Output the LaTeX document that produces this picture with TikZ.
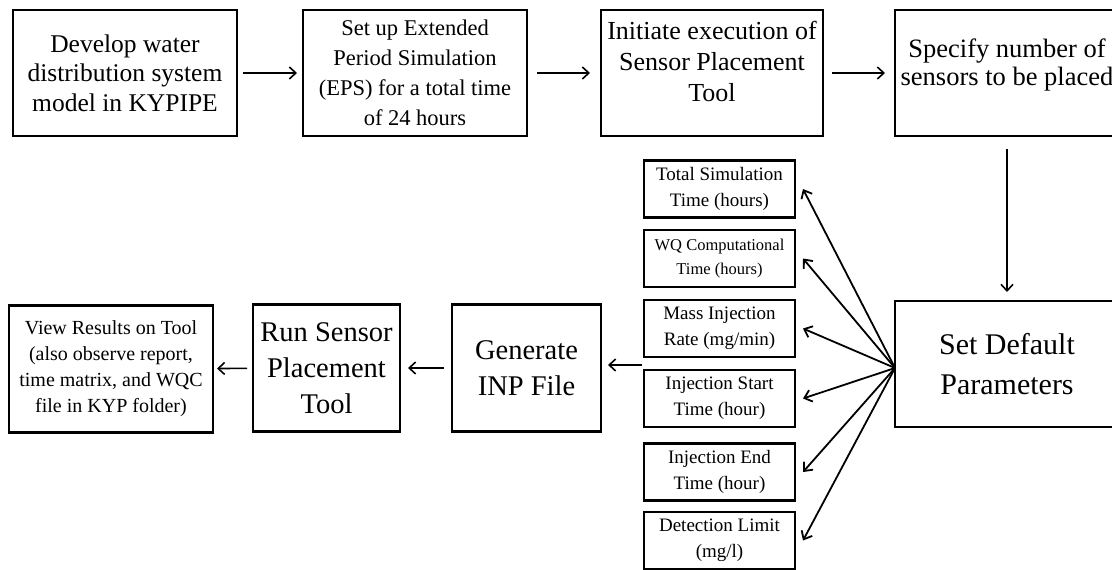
\documentclass[tikz,border=0pt]{standalone}
\usepackage{fontspec}
\setmainfont{Liberation Serif}
\usetikzlibrary{arrows.meta,calc}

\newcommand{\fs}[2]{\fontsize{#1}{#2}\selectfont}
\newcommand{\lifted}[2]{\raisebox{#1}[\height][\depth]{\begin{tabular}{@{}c@{}}#2\end{tabular}}}

\begin{document}
\begin{tikzpicture}[x=1pt,y=-1pt,
  stagebox/.style={draw, line width=2.4pt, inner sep=0pt, outer sep=0pt,
    align=center, minimum width=224pt, minimum height=126pt},
  flowbox/.style={draw, line width=2.4pt, inner sep=0pt, outer sep=0pt,
    align=center, minimum height=127pt},
  parambox/.style={draw, line width=2.1pt, inner sep=0pt, outer sep=0pt,
    align=center, minimum width=151pt, minimum height=57pt,
    font=\fs{19}{26}},
  flow/.style={line width=1.6pt, -{Straight Barb[length=6.5pt,width=12pt,line width=1.6pt]}},
  spoke/.style={line width=1.8pt, -{Straight Barb[length=7pt,width=12pt,line width=1.8pt]}}]

\clip (0,0) rectangle (1112,570);

% top row
\node[stagebox, font=\fs{25.5}{29.5}] (model) at (125,73)
  {Develop water\\distribution system\\model in KYPIPE};
\node[stagebox, font=\fs{22.5}{30}] (eps) at (415,73)
  {Set up Extended\\Period Simulation\\(EPS) for a total time\\of 24 hours};
\node[stagebox, minimum width=222pt, font=\fs{26}{31}] (init) at (712,73)
  {\lifted{9pt}{Initiate execution of\\Sensor Placement\\Tool}};
\node[stagebox, font=\fs{26.5}{28}] (count) at (1007,73)
  {\lifted{7pt}{Specify number of\\sensors to be placed}};

% default parameters
\node[stagebox, font=\fs{30}{40}] (defaults) at (1007,364)
  {Set Default\\Parameters};

% parameter list
\node[parambox] (simtime) at (719.5,189)   {Total Simulation\\Time (hours)};
\node[parambox, font=\fs{16.5}{24}] (wqtime) at (719.5,258.5) {WQ Computational\\Time (hours)};
\node[parambox] (rate)    at (719.5,328.5) {Mass Injection\\Rate (mg/min)};
\node[parambox] (start)   at (719.5,398.5) {Injection Start\\Time (hour)};
\node[parambox] (stop)    at (719.5,472)   {Injection End\\Time (hour)};
\node[parambox] (limit)   at (719.5,540.5) {Detection Limit\\(mg/l)};

% bottom row
\node[flowbox, minimum width=204pt, font=\fs{20}{26}] (view) at (111,369)
  {View Results on Tool\\(also observe report,\\time matrix, and WQC\\file in KYP folder)};
\node[flowbox, minimum width=147pt, font=\fs{28.5}{36}] (run) at (326.5,368)
  {Run Sensor\\Placement\\Tool};
\node[flowbox, minimum width=149pt, font=\fs{28.5}{36}] (inp) at (526.5,368)
  {Generate\\INP File};

% top row flow
\draw[flow, shorten <=6pt, shorten >=6pt] (model) -- (eps);
\draw[flow, shorten <=10pt, shorten >=11pt] (eps) -- (init);
\draw[flow, shorten <=9pt, shorten >=10pt] (init) -- (count);
\draw[flow, shorten <=13pt, shorten >=9pt] (count) -- (defaults);

% fan of parameters
\coordinate (fan) at ($(defaults.west)+(0,4)$);
\foreach \p in {simtime,wqtime,rate,start,stop,limit}
  \draw[spoke] (fan) -- ($(\p.east)+(8,0)$);

% bottom row flow
\coordinate (handoff) at (642,365);
\draw[flow, shorten >=7pt] (handoff) -- (handoff -| inp.east);
\draw[flow, shorten <=8pt, shorten >=8pt] (inp) -- (run);
\draw[flow, shorten <=6pt, shorten >=4pt] (run) -- (view);

\end{tikzpicture}
\end{document}
